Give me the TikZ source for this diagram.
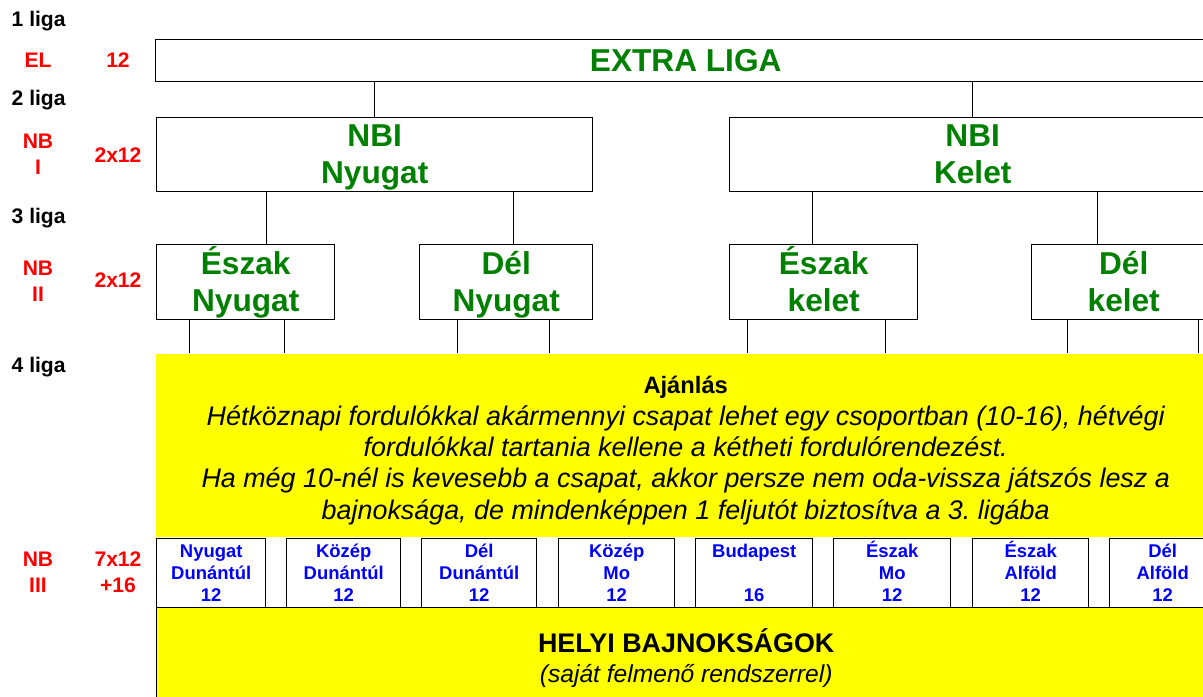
\documentclass[tikz,border=0pt]{standalone}
\usepackage{fontspec}
\setmainfont{Liberation Sans}
\frenchspacing
\definecolor{ligagreen}{RGB}{0,128,0}
\definecolor{ligayellow}{RGB}{255,255,0}
\newcommand{\hstrut}{\vphantom{Ég}}

\begin{document}
\begin{tikzpicture}[
            x=0.2mm,y=-0.2mm,line width=0.8pt,
            levelnode/.style={anchor=west, inner sep=0pt, text=black, font=\fontsize{12}{15}\selectfont\bfseries},
            divnode/.style={anchor=center, inner sep=0pt, align=center, text=red, font=\fontsize{12}{15}\selectfont\bfseries},
            ligabox/.style={rectangle, draw=black, anchor=north west, inner sep=0pt, align=center, text=ligagreen, font=\fontsize{18}{21}\selectfont\bfseries},
            regionbox/.style={rectangle, draw=black, fill=white, anchor=north west, inner sep=0pt, align=center, text=blue, minimum height=13.8mm, font=\fontsize{10.5}{12.5}\selectfont\bfseries},
            yellowbox/.style={rectangle, fill=ligayellow, anchor=north west, inner sep=0pt, align=center, text=black},
            ]
            \useasboundingbox (0,0) rectangle (1203,697);
            \clip (0,0) rectangle (1203,697);
            % Left labels
            \node[levelnode] (l1) at (11,21) {1 liga};
            \node[levelnode] (l2) at (11,100) {2 liga};
            \node[levelnode] (l3) at (11,218) {3 liga};
            \node[levelnode] (l4) at (11,367) {4 liga};
            \node[divnode] (el) at (38,60) {EL};
            \node[divnode] (elnum) at (118,60) {12};
            \node[divnode] (nbi) at (38,154) {NB\\I};
            \node[divnode] (nbinum) at (118,155) {2x12};
            \node[divnode] (nbii) at (38,281) {NB\\II};
            \node[divnode] (nbiinum) at (118,280) {2x12};
            \node[divnode] (nbiii) at (38,572) {NB\\III};
            \node[divnode] (nbiiinum) at (118,572) {7x12\\+16};

            % Boxes
            \node[ligabox, minimum width=212mm, minimum height=8.4mm] (extra) at (155,39) {EXTRA LIGA};
            \node[ligabox, minimum width=87.2mm, minimum height=14.8mm] (nbiny) at (156,117) {NBI\hstrut\\Nyugat\hstrut};
            \node[ligabox, minimum width=97.2mm, minimum height=14.8mm] (nbike) at (729,117) {NBI\hstrut\\Kelet\hstrut};
            \node[ligabox, minimum width=35.6mm, minimum height=15mm] (eszny) at (156,244) {Észak\hstrut\\Nyugat\hstrut};
            \node[ligabox, minimum width=34.6mm, minimum height=15mm] (delny) at (419,244) {Dél\hstrut\\Nyugat\hstrut};
            \node[ligabox, minimum width=37.6mm, minimum height=15mm] (eszke) at (729,244) {Észak\hstrut\\kelet\hstrut};
            \node[ligabox, minimum width=36.8mm, minimum height=15mm] (delke) at (1031,244) {Dél\hstrut\\kelet\hstrut};

            \node[yellowbox, minimum width=212mm, minimum height=36.6mm, font=\fontsize{15.3}{17.8}\selectfont\itshape] (ajanlas) at (155,353)
              {{\fontsize{13.5}{17.8}\selectfont\upshape\bfseries\rule{0pt}{16pt}Ajánlás}\\
               Hétköznapi fordulókkal akármennyi csapat lehet egy csoportban (10-16), hétvégi\\
               fordulókkal tartania kellene a kétheti fordulórendezést.\\
               Ha még 10-nél is kevesebb a csapat, akkor persze nem oda-vissza játszós lesz a\\
               bajnoksága, de mindenképpen 1 feljutót biztosítva a 3. ligába};

            \node[regionbox, minimum width=21.8mm] (nydun) at (156,538) {Nyugat\hstrut\\Dunántúl\\12\hstrut};
            \node[regionbox, minimum width=22.8mm] (kozdun) at (286,538) {Közép\hstrut\\Dunántúl\\12\hstrut};
            \node[regionbox, minimum width=23mm] (deldun) at (421,538) {Dél\hstrut\\Dunántúl\\12\hstrut};
            \node[regionbox, minimum width=23.2mm] (kozmo) at (558,538) {Közép\hstrut\\Mo\\12\hstrut};
            \node[regionbox, minimum width=23.4mm] (bp) at (695,538) {Budapest\hstrut\\\mbox{}\\16\hstrut};
            \node[regionbox, minimum width=23.4mm] (eszmo) at (833,538) {Észak\hstrut\\Mo\\12\hstrut};
            \node[regionbox, minimum width=23.2mm] (eszalf) at (972,538) {Észak\hstrut\\Alföld\\12\hstrut};
            \node[regionbox, minimum width=21.2mm] (delalf) at (1109,538) {Dél\hstrut\\Alföld\\12\hstrut};

            \node[yellowbox, draw=black, minimum width=211.8mm, minimum height=20mm, font=\fontsize{14}{17}\selectfont\itshape] (helyi) at (156,607)
              {{\fontsize{15.3}{17}\selectfont\upshape\bfseries HELYI BAJNOKSÁGOK}\\(saját felmenő rendszerrel)};

            % Lines
            \draw (nbiny.north) -- (nbiny.north |- extra.south);
            \draw (nbike.north) -- (nbike.north |- extra.south);

            \coordinate (c1) at ([xshift=4.2mm]eszny.north);
            \coordinate (c2) at ([xshift=1.5mm]delny.north);
            \coordinate (c3) at ([xshift=-2.2mm]eszke.north);
            \coordinate (c4) at ([xshift=-5.2mm]delke.north);
            \draw (c1) -- (c1 |- nbiny.south);
            \draw (c2) -- (c2 |- nbiny.south);
            \draw (c3) -- (c3 |- nbike.south);
            \draw (c4) -- (c4 |- nbike.south);

            \coordinate (d1) at ([xshift=-11.2mm]eszny.south);
            \coordinate (d2) at ([xshift=7.8mm]eszny.south);
            \coordinate (d3) at ([xshift=-9.7mm]delny.south);
            \coordinate (d4) at ([xshift=8.7mm]delny.south);
            \coordinate (d5) at ([xshift=-15.2mm]eszke.south);
            \coordinate (d6) at ([xshift=12.4mm]eszke.south);
            \coordinate (d7) at ([xshift=-11.2mm]delke.south);
            \coordinate (d8) at ([xshift=15mm]delke.south);
            \draw (d1) -- (d1 |- ajanlas.north);
            \draw (d2) -- (d2 |- ajanlas.north);
            \draw (d3) -- (d3 |- ajanlas.north);
            \draw (d4) -- (d4 |- ajanlas.north);
            \draw (d5) -- (d5 |- ajanlas.north);
            \draw (d6) -- (d6 |- ajanlas.north);
            \draw (d7) -- (d7 |- ajanlas.north);
            \draw (d8) -- (d8 |- ajanlas.north);
\end{tikzpicture}
\end{document}
